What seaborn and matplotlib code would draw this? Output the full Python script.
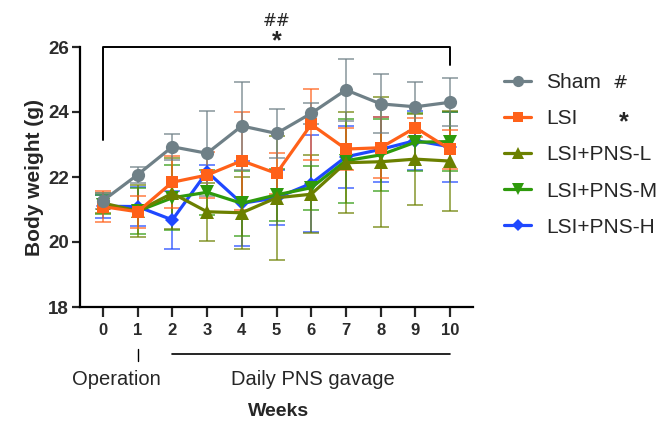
import numpy as np
import pandas as pd
import matplotlib
matplotlib.use("Agg")
import matplotlib.pyplot as plt
import seaborn as sns

sns.set_theme(style="ticks")
plt.rcParams['font.family'] = ['Liberation Sans', 'DejaVu Sans']

weeks = [0, 1, 2, 3, 4, 5, 6, 7, 8, 9, 10]
groups = ["Sham", "LSI", "LSI+PNS-L", "LSI+PNS-M", "LSI+PNS-H"]

sham_mean = [21.27, 22.07, 22.93, 22.73, 23.57, 23.34, 23.96, 24.68, 24.25, 24.16, 24.30]
sham_sd   = [0.25, 0.25, 0.40, 1.30, 1.36, 0.76, 0.33, 0.96, 0.91, 0.75, 0.74]
lsi_mean  = [21.09, 20.93, 21.84, 22.06, 22.50, 22.11, 23.62, 22.86, 22.90, 23.52, 22.85]
lsi_sd    = [0.47, 0.50, 0.80, 0.70, 1.50, 0.64, 1.10, 0.64, 0.94, 0.30, 0.60]
pnsl_mean = [21.20, 20.95, 21.50, 20.93, 20.90, 21.36, 21.47, 22.44, 22.47, 22.55, 22.49]
pnsl_sd   = [0.30, 0.80, 1.10, 0.90, 1.10, 1.90, 1.20, 1.55, 2.00, 1.40, 1.55]
pnsm_mean = [21.15, 20.95, 21.36, 21.53, 21.19, 21.45, 21.67, 22.50, 22.68, 23.07, 23.09]
pnsm_sd   = [0.30, 0.70, 1.00, 0.70, 1.00, 0.80, 0.67, 1.30, 1.10, 0.90, 0.90]
pnsh_mean = [21.10, 21.09, 20.68, 22.16, 21.19, 21.36, 21.80, 22.62, 22.85, 23.12, 22.93]
pnsh_sd   = [0.35, 0.60, 0.90, 0.20, 1.30, 0.85, 1.50, 0.95, 1.00, 0.90, 1.07]

means = {"Sham": sham_mean, "LSI": lsi_mean, "LSI+PNS-L": pnsl_mean,
         "LSI+PNS-M": pnsm_mean, "LSI+PNS-H": pnsh_mean}
sds = {"Sham": sham_sd, "LSI": lsi_sd, "LSI+PNS-L": pnsl_sd,
       "LSI+PNS-M": pnsm_sd, "LSI+PNS-H": pnsh_sd}

colors = {"Sham": "#6F8087", "LSI": "#FF6119", "LSI+PNS-L": "#6B8000",
          "LSI+PNS-M": "#2E9A0C", "LSI+PNS-H": "#1F48FF"}
markers = {"Sham": "o", "LSI": "s", "LSI+PNS-L": "^", "LSI+PNS-M": "v", "LSI+PNS-H": "D"}
msizes = {"Sham": 9.5, "LSI": 9, "LSI+PNS-L": 9.5, "LSI+PNS-M": 9.5, "LSI+PNS-H": 7}

rows = []
for g in groups:
    for w, m in zip(weeks, means[g]):
        rows.append({"Week": w, "Weight": m, "Group": g})
df = pd.DataFrame(rows)

fig = plt.figure(figsize=(6.72, 4.21), dpi=100)
ax = fig.add_axes([80/672, 1-307/421, (473-80)/672, 260/421])

draw_order = ["LSI+PNS-H", "LSI+PNS-M", "LSI+PNS-L", "LSI", "Sham"]
for i, g in enumerate(draw_order):
    ax.errorbar(weeks, means[g], yerr=sds[g], fmt='none', ecolor=colors[g],
                alpha=0.7, elinewidth=1.3, capsize=5.5, capthick=1.3, zorder=1 + i)

sns.lineplot(data=df, x="Week", y="Weight", hue="Group", style="Group",
             hue_order=draw_order, style_order=draw_order,
             palette=colors, markers=markers, dashes=False, linewidth=2.3,
             markeredgewidth=0, ax=ax, legend=False, zorder=10)
lines = [l for l in ax.get_lines() if len(l.get_xdata()) == len(weeks)]
for l, g in zip(lines[-5:], draw_order):
    l.set_markersize(msizes[g])

ax.set_xlim(-0.66, 10.66)
ax.set_ylim(18, 26)
ax.set_xticks(weeks)
ax.set_yticks([18, 20, 22, 24, 26])
ax.set_xlabel("")
ax.set_ylabel("Body weight (g)", fontsize=15, fontweight="bold", labelpad=3)
for s in ["top", "right"]:
    ax.spines[s].set_visible(False)
for s in ["left", "bottom"]:
    ax.spines[s].set_linewidth(1.6)
    ax.spines[s].set_color("black")
ax.tick_params(axis="y", length=6, width=1.6, labelsize=13.5, pad=2, labelcolor="#2b2b2b")
ax.tick_params(axis="x", length=7.5, width=1.6, labelsize=12, pad=4, labelcolor="#2b2b2b")
for lab in ax.get_xticklabels() + ax.get_yticklabels():
    lab.set_fontweight("bold")

# significance bracket
ax.plot([0, 0, 10, 10], [23.14, 26, 26, 25.45], color="black", lw=1.4,
        clip_on=False, zorder=20)
xt = ax.get_xaxis_transform()
ax.text(5, 1.02, "*", transform=xt, ha="center", va="center", fontsize=18, fontweight="bold")
ax.text(5, 1.10, "##", transform=xt, ha="center", va="center", fontsize=12,
        family="DejaVu Sans")

# annotations under the x axis
ax.plot([1, 1], [-0.1615, -0.2077], transform=xt, color="black", lw=1.0, clip_on=False)
ax.plot([2, 10], [-0.181, -0.181], transform=xt, color="black", lw=1.2, clip_on=False)
ax.text(0.39, -0.277, "Operation", transform=xt, ha="center", va="center", fontsize=14.5)
ax.text(6.05, -0.277, "Daily PNS gavage", transform=xt, ha="center", va="center", fontsize=14.5)
ax.text(5.05, -0.40, "Weeks", transform=xt, ha="center", va="center", fontsize=14,
        fontweight="bold")

# legend
from matplotlib.lines import Line2D
handles = [Line2D([0], [0], color=colors[g], marker=markers[g], markersize=msizes[g] * 0.85,
                  markeredgewidth=0, lw=2.3) for g in groups]
leg = fig.legend(handles, groups, loc="upper left", bbox_to_anchor=(496/672, 1-65/421),
                 frameon=False, fontsize=15, handlelength=1.3, handletextpad=0.7,
                 labelspacing=0.82, borderaxespad=0)
fig.text(620/672, 1-83/421, "#", ha="center", va="center", fontsize=13, family="DejaVu Sans")
fig.text(624/672, 1-122/421, "*", ha="center", va="center", fontsize=18, fontweight="bold")

fig.savefig("out.png", dpi=100)
